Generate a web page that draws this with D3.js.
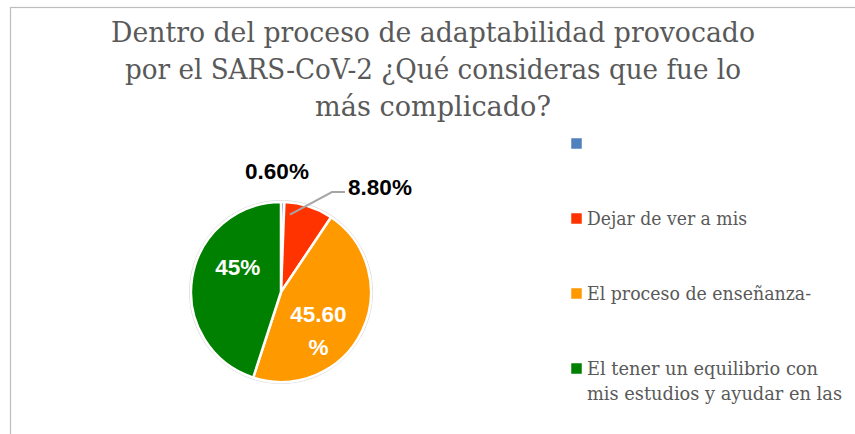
<!DOCTYPE html>
<html>
<head>
<meta charset="utf-8">
<script src="https://cdn.jsdelivr.net/npm/d3@7"></script>
<style>
  body { margin: 0; background: #fff; }
  svg { display: block; }
  .serif { font-family: "DejaVu Serif", "Liberation Serif", serif; }
</style>
</head>
<body>
<script>

const width = 855;
const height = 434;

// datos
var categories = ["", "Dejar de ver a mis", "El proceso de enseñanza-", "El tener un equilibrio  con\nmis estudios y ayudar en las"];
var values = [0.6, 8.8, 45.6, 45];
var labels = ["0.60%", "8.80%", "45.60\n%", "45%"];
var colors = ["#4f81bd", "#ff3300", "#ff9900", "#008000"];

var titleLines = [
  "Dentro del proceso de adaptabilidad provocado",
  "por el SARS-CoV-2 ¿Qué consideras que fue lo",
  "más complicado?"
];
var titleWidths = [644, 616, 236];

const svg = d3.select("body").append("svg")
  .attr("width", width)
  .attr("height", height);

// marco
svg.append("rect")
  .attr("x", 10.5)
  .attr("y", 7.5)
  .attr("width", width + 10)
  .attr("height", height + 10)
  .attr("fill", "none")
  .attr("stroke", "#bdbdbd")
  .attr("stroke-width", 1.2);

// titulo
svg.append("g")
  .selectAll("text")
  .data(titleLines)
  .enter().append("text")
    .attr("class", "serif")
    .attr("x", 433)
    .attr("y", function(d, i) { return 42 + i * 37; })
    .attr("text-anchor", "middle")
    .attr("font-size", 28)
    .attr("fill", "#595959")
    .attr("textLength", function(d, i) { return titleWidths[i]; })
    .attr("lengthAdjust", "spacingAndGlyphs")
    .text(function(d) { return d; });

// pastel
const cx = 281, cy = 292, r = 90;

var pie = d3.pie().sort(null).value(function(d) { return d; });
var arcs = pie(values);
var arc = d3.arc().innerRadius(0).outerRadius(r);
var labelArc = d3.arc().innerRadius(55).outerRadius(55);

var g = svg.append("g").attr("transform", "translate(" + cx + "," + cy + ")");

g.append("circle")
  .attr("r", r + 1.5)
  .attr("fill", "none")
  .attr("stroke", "#d9d9d9")
  .attr("stroke-width", 1);

g.selectAll("path")
  .data(arcs)
  .enter().append("path")
    .attr("d", arc)
    .attr("fill", function(d, i) { return colors[i]; })
    .attr("stroke", "#fff")
    .attr("stroke-width", 2.5)
    .attr("stroke-linejoin", "round");

// linea guia para 8.80%
var redMid = (arcs[1].startAngle + arcs[1].endAngle) / 2 - 0.2;
var p0 = [Math.sin(redMid) * (r - 12), -Math.cos(redMid) * (r - 12)];
g.append("polyline")
  .attr("points", [p0, [51, -100], [64, -100]].map(function(p) { return p.join(","); }).join(" "))
  .attr("fill", "none")
  .attr("stroke", "#a6a6a6")
  .attr("stroke-width", 2);

// posiciones de etiquetas (ajustes respecto al centroide)
var labelOutside = [true, true, false, false];
var labelNudge = [[0, 0], [0, 0], [-12, 14], [11, -16]];
var outsidePos = [[-4, -121], [99, -105]];

g.selectAll("text.lbl")
  .data(arcs)
  .enter().append("text")
    .attr("class", "lbl")
    .attr("text-anchor", "middle")
    .attr("font-family", "Liberation Sans, Arial, sans-serif")
    .attr("font-weight", "bold")
    .attr("font-size", 22.5)
    .attr("fill", function(d, i) { return labelOutside[i] ? "#000" : "#fff"; })
    .each(function(d, i) {
      var pos;
      if (labelOutside[i]) {
        pos = outsidePos[i];
      } else {
        var c = labelArc.centroid(d);
        pos = [c[0] + labelNudge[i][0], c[1] + labelNudge[i][1]];
      }
      var lines = labels[i].split("\n");
      var t = d3.select(this);
      lines.forEach(function(l, j) {
        t.append("tspan")
          .attr("x", pos[0])
          .attr("y", pos[1] + (j - (lines.length - 1) / 2) * 33 + 8)
          .text(l);
      });
    });

// leyenda
var legend = svg.append("g")
  .selectAll("g")
  .data(categories)
  .enter().append("g")
    .attr("transform", function(d, i) { return "translate(571," + (138 + i * 75) + ")"; });

legend.append("rect")
  .attr("width", 11)
  .attr("height", 11)
  .attr("fill", function(d, i) { return colors[i]; })
  .attr("stroke", "#fff")
  .attr("stroke-width", 0.5);

var legendWidths = [[0], [160], [224], [231, 255]];

legend.each(function(d, i) {
  var lines = d.split("\n");
  var sel = d3.select(this);
  lines.forEach(function(l, j) {
    if (!l) return;
    sel.append("text")
      .attr("class", "serif")
      .attr("x", 16)
      .attr("y", 12 + j * 25)
      .attr("font-size", 18.5)
      .attr("fill", "#595959")
      .attr("textLength", legendWidths[i][j])
      .attr("lengthAdjust", "spacingAndGlyphs")
      .text(l);
  });
});

</script>
</body>
</html>
